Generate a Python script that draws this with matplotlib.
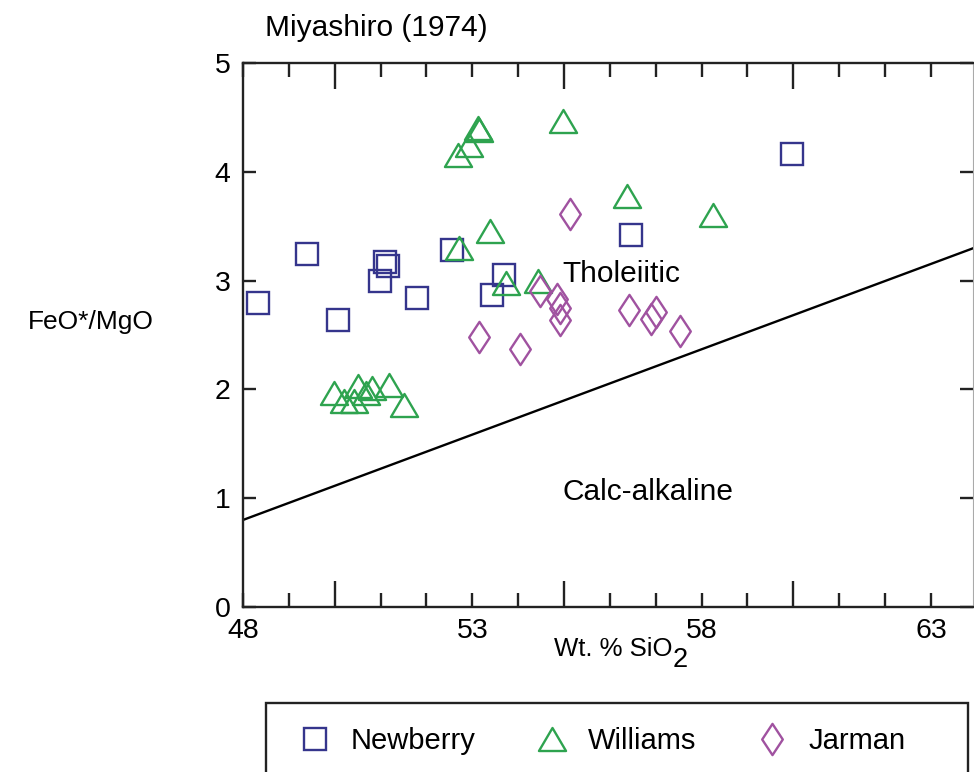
import matplotlib
matplotlib.use("Agg")
import matplotlib.pyplot as plt
from matplotlib.path import Path
from matplotlib.lines import Line2D
from matplotlib.patches import Rectangle
from matplotlib.ticker import FixedLocator, FixedFormatter

plt.rcParams['font.family'] = ['Liberation Sans', 'DejaVu Sans']

# --- data -------------------------------------------------------------
newberry_sio2 = [48.33, 49.40, 50.07, 50.99, 51.09, 51.17, 51.79, 52.55,
                 53.70, 53.42, 56.45, 59.97]
newberry_ratio = [2.79, 3.24, 2.64, 3.00, 3.17, 3.13, 2.84, 3.28,
                  3.05, 2.87, 3.42, 4.16]

williams_sio2 = [54.97, 53.12, 53.14, 52.92, 52.68, 53.39, 52.72, 53.74,
                 54.43, 56.37, 58.25,
                 49.99, 50.20, 50.42, 50.50, 50.68, 50.82, 51.19, 51.52]
williams_ratio = [4.47, 4.40, 4.38, 4.25, 4.15, 3.46, 3.30, 2.98,
                  3.00, 3.78, 3.60,
                  1.97, 1.89, 1.89, 2.03, 1.97, 2.01, 2.04, 1.86]

jarman_sio2 = [53.14, 54.05, 54.48, 54.85, 54.92, 54.92, 56.41, 56.90,
               57.01, 57.52, 55.13]
jarman_ratio = [2.48, 2.37, 2.90, 2.83, 2.75, 2.64, 2.73, 2.65,
                2.71, 2.54, 3.61]

# Miyashiro (1974) tholeiitic / calc-alkaline divide
boundary_sio2 = [48.0, 64.0]
boundary_ratio = [0.80, 3.31]

x_label_ticks = [48, 53, 58, 63]
x_short_ticks = [48, 49, 51, 52, 53, 54, 56, 57, 58, 59, 61, 62, 63]
x_long_ticks = [50, 55, 60]
y_ticks = [0, 1, 2, 3, 4, 5]

series_names = ['Newberry', 'Williams', 'Jarman']
series_colors = ['#35358c', '#2ea34f', '#a052a0']

# --- marker shapes ----------------------------------------------------
closed = [Path.MOVETO, Path.LINETO, Path.LINETO, Path.CLOSEPOLY]
triangle = Path([(0, 0.85), (-1, -0.85), (1, -0.85), (0, 0.85)], closed)
diamond = Path([(0, 1), (0.66, 0), (0, -1), (-0.66, 0), (0, 1)],
               [Path.MOVETO, Path.LINETO, Path.LINETO, Path.LINETO, Path.CLOSEPOLY])
marker_styles = [dict(marker='s', ms=16),
                 dict(marker=triangle, ms=19.5),
                 dict(marker=diamond, ms=22.5)]
mew = 1.7

# --- figure -----------------------------------------------------------
W, H = 974, 772
fig = plt.figure(figsize=(W / 100, H / 100), dpi=100)
ax_left, ax_right, ax_top, ax_bottom = 243, 973.3, 63, 607
ax = fig.add_axes([ax_left / W, 1 - ax_bottom / H,
                   (ax_right - ax_left) / W, (ax_bottom - ax_top) / H])

ax.set_xlim(48, 48 + (ax_right - 244) / 45.8)
ax.set_ylim(0, 5)

series = [(newberry_sio2, newberry_ratio),
          (williams_sio2, williams_ratio),
          (jarman_sio2, jarman_ratio)]
for (xs, ys), color, style in zip(series, series_colors, marker_styles):
    ax.plot(xs, ys, ls='none', mfc='none', mec=color, mew=mew, zorder=3,
            **style)

ax.plot(boundary_sio2, boundary_ratio, color='black', lw=1.7, zorder=2)

ax.text(54.97, 3.06, 'Tholeiitic', fontsize=21.5, ha='left', va='center')
ax.text(54.97, 1.06, 'Calc-alkaline', fontsize=21.5, ha='left', va='center')

# spines
for side in ['left', 'bottom', 'top']:
    ax.spines[side].set_linewidth(1.7)
    ax.spines[side].set_color('#222222')
ax.spines['right'].set_linewidth(0.8)
ax.spines['right'].set_color('#aaaaaa')

# ticks: short ticks every unit, long ticks at 50/55/60, labels at 48/53/58/63
ax.xaxis.set_major_locator(FixedLocator(x_short_ticks))
ax.xaxis.set_major_formatter(FixedFormatter(
    [str(v) if v in x_label_ticks else '' for v in x_short_ticks]))
ax.xaxis.set_minor_locator(FixedLocator(x_long_ticks))
ax.tick_params(axis='x', which='major', direction='in', length=10, width=1.7,
               top=True, bottom=True, labelsize=20.5, pad=8, color='#222222')
ax.tick_params(axis='x', which='minor', direction='in', length=19, width=1.7,
               top=True, bottom=True, color='#222222')
ax.set_yticks(y_ticks)
ax.tick_params(axis='y', which='major', direction='in', length=9.5, width=1.7,
               left=True, right=True, labelsize=20.5, pad=9, color='#222222')

# labels
fig.text(265 / W, 1 - 28 / H, 'Miyashiro (1974)', fontsize=21.5,
         ha='left', va='center')
fig.text(91 / W, 1 - 322 / H, 'FeO*/MgO', fontsize=19, ha='center',
         va='center')
fig.text(672 / W, 1 - 649 / H, 'Wt. % SiO', fontsize=18.5,
         ha='right', va='center')
fig.text(673 / W, 1 - 660 / H, '2', fontsize=19.5, ha='left', va='center')

# legend (frame drawn as a separate box running off the bottom edge)
handles = [Line2D([], [], ls='none', mfc='none', mec=c, mew=mew, **s)
           for c, s in zip(series_colors, marker_styles)]
fig.legend(handles, series_names, loc='center left',
           bbox_to_anchor=(300 / W, 1 - 741 / H), ncol=3, fontsize=21,
           frameon=False, handlelength=1.0, handletextpad=0.75,
           borderpad=0, borderaxespad=0, columnspacing=2.1)
fig.patches.append(Rectangle((266 / W, -0.02), (968 - 266) / W,
                             (H - 703) / H + 0.02, transform=fig.transFigure,
                             fill=False, edgecolor='#222222', lw=1.7))

fig.savefig('out.png', dpi=100)
